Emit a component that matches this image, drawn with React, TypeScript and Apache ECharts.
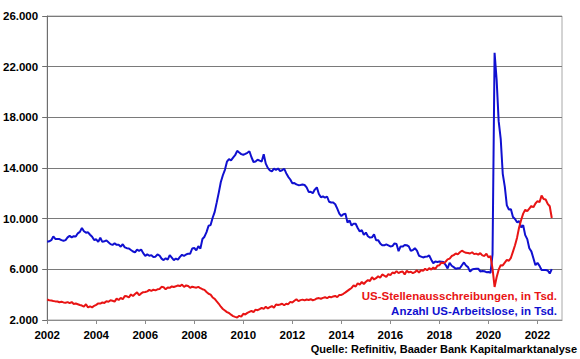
import React, { useEffect, useRef } from "react";
import * as echarts from "echarts";

// Monthly values, Jan 2002 .. Aug 2022, in thousands
const startYear = 2002;

const jobOpenings: number[] = [
  // 2002
  3620, 3560, 3540, 3500, 3470, 3460, 3400, 3440, 3390, 3360, 3410, 3330,
  // 2003
  3420, 3260, 3300, 3240, 3180, 3140, 3050, 3250, 2990, 3080, 3000, 3120,
  // 2004
  3200, 3310, 3300, 3380, 3350, 3480, 3440, 3560, 3520, 3450, 3690, 3580,
  // 2005
  3750, 3640, 3900, 3870, 3780, 4020, 3890, 4050, 4180, 3950, 4100, 4200,
  // 2006
  4210, 4260, 4380, 4300, 4390, 4340, 4420, 4450, 4620, 4590, 4420, 4560,
  // 2007
  4540, 4650, 4610, 4660, 4730, 4680, 4790, 4610, 4730, 4680, 4540, 4630,
  // 2008
  4580, 4550, 4620, 4510, 4430, 4380, 4210, 4070, 4000, 3780, 3670, 3470,
  // 2009
  3280, 3050, 2870, 2750, 2620, 2550, 2420, 2310, 2250, 2200, 2330, 2270,
  // 2010
  2490, 2440, 2560, 2640, 2720, 2620, 2820, 2770, 2860, 2960, 2880, 3050,
  // 2011
  2910, 3010, 3100, 2960, 3230, 3180, 3220, 3280, 3160, 3290, 3250, 3430,
  // 2012
  3380, 3520, 3640, 3490, 3570, 3610, 3550, 3620, 3580, 3640, 3560, 3610,
  // 2013
  3700, 3730, 3680, 3750, 3800, 3720, 3830, 3790, 3860, 3900, 3810, 3980,
  // 2014
  3980, 4070, 4180, 4300, 4420, 4530, 4740, 4640, 4900, 4800, 5000, 4840,
  // 2015
  5020, 5150, 5080, 5380, 5200, 5300, 5450, 5330, 5600, 5500, 5410, 5620,
  // 2016
  5540, 5750, 5690, 5860, 5700, 5790, 5830, 5600, 5880, 5760, 5810, 5700,
  // 2017
  5780, 5920, 5750, 5940, 5880, 6050, 5930, 6100, 5980, 6140, 6020, 6280,
  // 2018
  6320, 6550, 6480, 6600, 6780, 6850, 7050, 7120, 7250, 7180, 7350, 7470,
  // 2019
  7380, 7300, 7290, 7250, 7350, 7200, 7240, 7160, 7280, 7100, 7060, 7230,
  // 2020
  6950, 7050, 6050, 4610, 5380, 5970, 6330, 6310, 6530, 6740, 6680, 6910,
  // 2021
  7400, 7900, 8500, 9300, 9900, 10400, 10700, 10600, 10800, 11000, 10900, 11200,
  // 2022
  11380, 11300, 11820, 11550, 11510, 11170, 10980, 10050,
];

const unemployed: number[] = [
  // 2002
  8182, 8215, 8304, 8599, 8399, 8393, 8390, 8304, 8251, 8307, 8520, 8640,
  // 2003
  8520, 8618, 8588, 8842, 8957, 9266, 9011, 8896, 8921, 8732, 8576, 8317,
  // 2004
  8370, 8167, 8491, 8170, 8212, 8286, 8136, 7990, 7927, 8061, 7932, 7934,
  // 2005
  7784, 7980, 7737, 7672, 7651, 7524, 7406, 7345, 7553, 7453, 7566, 7279,
  // 2006
  7064, 7184, 7072, 7120, 6980, 7001, 7175, 7091, 6847, 6727, 6872, 6762,
  // 2007
  7116, 6927, 6731, 6850, 6766, 6979, 7149, 7067, 7170, 7237, 7240, 7645,
  // 2008
  7685, 7497, 7822, 7637, 8395, 8575, 8937, 9438, 9494, 10074, 10538, 11286,
  // 2009
  12058, 12898, 13426, 13853, 14499, 14707, 14601, 14814, 15009, 15352, 15219, 15098,
  // 2010
  15046, 15113, 15202, 15325, 14849, 14474, 14512, 14648, 14579, 14516, 15081, 14348,
  // 2011
  14013, 13820, 13737, 13957, 13855, 13962, 13763, 13818, 13948, 13594, 13302, 13093,
  // 2012
  12797, 12813, 12713, 12646, 12660, 12692, 12656, 12471, 12115, 12124, 12005, 12298,
  // 2013
  12471, 11950, 11689, 11760, 11654, 11751, 11335, 11279, 11270, 11136, 10787, 10404,
  // 2014
  10202, 10349, 10380, 9702, 9859, 9460, 9608, 9599, 9262, 8990, 9090, 8717,
  // 2015
  8903, 8610, 8504, 8526, 8771, 8297, 8305, 8047, 7907, 7896, 7969, 7892,
  // 2016
  7806, 7838, 8048, 7995, 7431, 7807, 7796, 7917, 7901, 7817, 7461, 7521,
  // 2017
  7662, 7481, 7073, 7006, 6939, 6991, 7004, 7094, 6765, 6490, 6617, 6581,
  // 2018
  6615, 6598, 6581, 6355, 6064, 6518, 6282, 6174, 6044, 6086, 6081, 6320,
  // 2019
  6543, 6302, 6177, 5820, 5983, 6036, 6044, 6051, 5832, 5865, 5847, 5778,
  // 2020
  5797, 5717, 7185, 23090, 20985, 17697, 16308, 13542, 12535, 11049, 10728, 10736,
  // 2021
  10130, 9972, 9710, 9812, 9316, 9484, 8702, 8384, 7666, 7418, 6878, 6329,
  // 2022
  6513, 6270, 5952, 5941, 5953, 5912, 5670, 6014,
];

const yTicks = [2000, 6000, 10000, 14000, 18000, 22000, 26000];
const xTickYears = [2002, 2004, 2006, 2008, 2010, 2012, 2014, 2016, 2018, 2020, 2022];

const redName = "US-Stellenausschreibungen, in Tsd.";
const blueName = "Anzahl US-Arbeitslose, in Tsd.";
const sourceText = "Quelle: Refinitiv, Baader Bank Kapitalmarktanalyse";

const toPairs = (vals: number[]) =>
  vals.map((v, i) => [startYear + i / 12, v]);

const fmtDe = (v: number) => {
  const s = Math.round(v).toString();
  return s.replace(/\B(?=(\d{3})+(?!\d))/g, ".");
};

const FONT = "'Liberation Sans', Arial, sans-serif";

export default function App() {
  const ref = useRef<HTMLDivElement>(null);

  useEffect(() => {
    if (!ref.current) return;
    const chart = echarts.init(ref.current, undefined, { renderer: "svg" });
    chart.setOption({
      animation: false,
      backgroundColor: "#ffffff",
      grid: {
        left: 45,
        right: 18,
        top: 16,
        bottom: 39,
        show: true,
        borderColor: "#a8a8a8",
        borderWidth: 1,
      },
      xAxis: {
        type: "value",
        min: 2002,
        max: 2023,
        interval: 2,
        axisLine: { show: true, lineStyle: { color: "#8c8c8c", width: 1 } },
        axisTick: { show: true, length: 4, lineStyle: { color: "#8c8c8c" } },
        splitLine: { show: false },
        axisLabel: {
          showMaxLabel: false,
          margin: 9,
          color: "#000",
          fontFamily: FONT,
          fontWeight: "bold",
          fontSize: 11.5,
          formatter: (v: number) => (xTickYears.includes(Math.round(v)) ? String(Math.round(v)) : ""),
        },
      },
      yAxis: {
        type: "value",
        min: yTicks[0],
        max: yTicks[yTicks.length - 1],
        interval: 4000,
        axisLine: { show: true, lineStyle: { color: "#6e6e6e", width: 1 } },
        axisTick: { show: true, length: 5, lineStyle: { color: "#6e6e6e" } },
        splitLine: { show: true, lineStyle: { color: "#7a7a7a", width: 1 } },
        axisLabel: {
          margin: 9,
          color: "#000",
          fontFamily: FONT,
          fontWeight: "bold",
          fontSize: 11.5,
          formatter: (v: number) => fmtDe(v),
        },
      },
      series: [
        {
          name: blueName,
          type: "line",
          data: toPairs(unemployed),
          showSymbol: false,
          lineStyle: { color: "#1010d0", width: 2 },
          itemStyle: { color: "#1010d0" },
          z: 3,
        },
        {
          name: redName,
          type: "line",
          data: toPairs(jobOpenings),
          showSymbol: false,
          lineStyle: { color: "#e81414", width: 2 },
          itemStyle: { color: "#e81414" },
          z: 4,
        },
      ],
      graphic: [
        {
          type: "text",
          right: 23,
          top: 290,
          style: {
            text: redName,
            fill: "#e81414",
            font: `bold 11.5px ${FONT}`,
          },
        },
        {
          type: "text",
          right: 23,
          top: 305,
          style: {
            text: blueName,
            fill: "#1010d0",
            font: `bold 11.5px ${FONT}`,
          },
        },
        {
          type: "text",
          right: 3,
          top: 343,
          style: {
            text: sourceText,
            fill: "#000",
            font: `bold 11px ${FONT}`,
          },
        },
      ],
    });
    return () => chart.dispose();
  }, []);

  return (
    <div
      ref={ref}
      style={{ position: "fixed", left: 0, top: 0, width: 580, height: 359 }}
    />
  );
}
